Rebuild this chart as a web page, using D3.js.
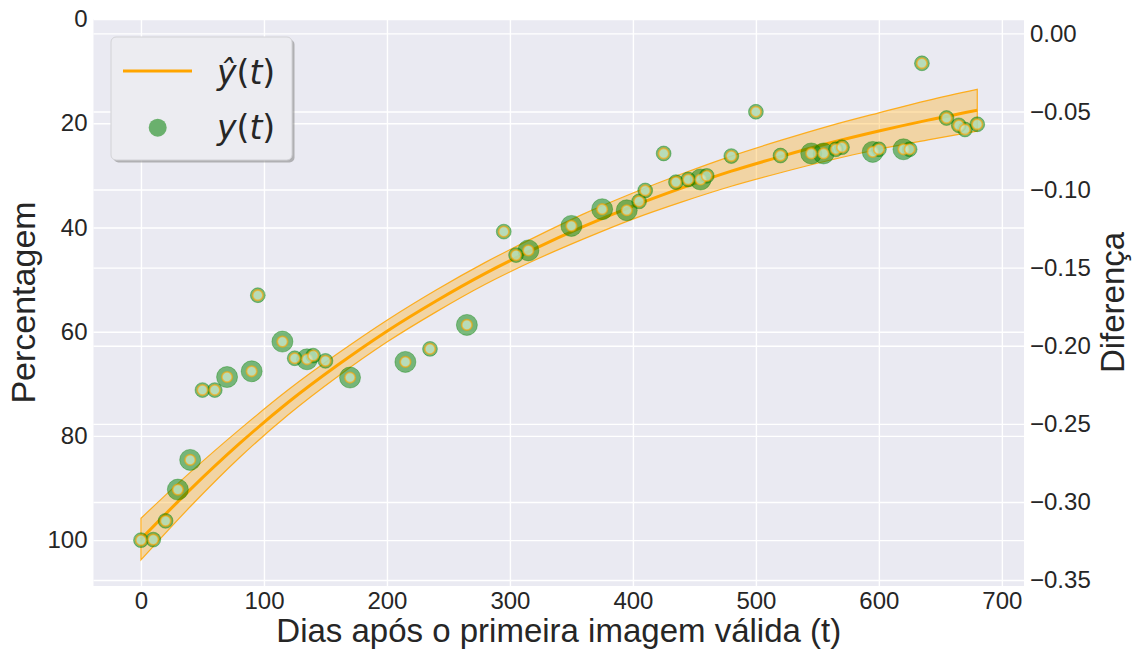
<!DOCTYPE html>
<html>
<head>
<meta charset="utf-8">
<script src="https://cdn.jsdelivr.net/npm/d3@7"></script>
<style>
	body { margin: 0; background: #fff; }
	text { font-family: "Liberation Sans", Arial, sans-serif; fill: #262626; }
</style>
</head>
<body>
<svg id="chart" width="1137" height="650"></svg>
<script>
// observed points y(t)
var days    = [0, 10, 20, 30, 40, 50, 60, 70, 90, 95, 115, 125, 135, 140, 150, 170, 215, 235, 265, 295, 305, 315, 350, 375, 395, 405, 410, 425, 435, 445, 455, 460, 480, 500, 520, 545, 555, 565, 570, 595, 600, 620, 625, 635, 655, 665, 670, 680];
var percent = [100, 99.9, 96.3, 90.3, 84.6, 71.2, 71.2, 68.7, 67.6, 53.0, 61.9, 65.1, 65.3, 64.6, 65.6, 68.8, 65.8, 63.3, 58.7, 40.8, 45.3, 44.4, 39.7, 36.5, 36.7, 35.0, 32.9, 25.8, 31.3, 30.8, 30.8, 30.1, 26.3, 17.8, 26.2, 25.8, 25.8, 25.0, 24.6, 25.5, 25.0, 25.0, 25.0, 8.5, 19.0, 20.4, 21.2, 20.2];
var weight  = [1, 1, 1, 2, 2, 1, 1, 2, 2, 1, 2, 1, 2, 1, 1, 2, 2, 1, 2, 1, 1, 2, 2, 2, 2, 1, 1, 1, 1, 1, 2, 1, 1, 1, 1, 2, 2, 1, 1, 2, 1, 2, 1, 1, 1, 1, 1, 1];

// fitted curve yhat(t) and its band
var fitDays  = [0, 40, 80, 120, 160, 200, 240, 280, 320, 360, 400, 440, 480, 520, 560, 600, 640, 680];
var fitValue = [99.8, 90.3, 81.5, 73.5, 66.4, 59.9, 54.1, 48.8, 44.1, 39.8, 35.9, 32.4, 29.2, 26.4, 23.8, 21.5, 19.4, 17.5];
var fitUpper = [95.8, 87.0, 78.8, 71.1, 64.2, 57.8, 52.0, 46.7, 41.9, 37.4, 33.4, 29.7, 26.3, 23.3, 20.5, 18.0, 15.6, 13.5];
var fitLower = [103.8, 93.6, 84.2, 75.9, 68.6, 62.0, 56.2, 50.9, 46.3, 42.2, 38.4, 35.1, 32.1, 29.5, 27.1, 25.0, 23.2, 21.5];

var xTicks = [0, 100, 200, 300, 400, 500, 600, 700];
var leftTicks = [0, 20, 40, 60, 80, 100];
var rightTicks = [0, -0.05, -0.10, -0.15, -0.20, -0.25, -0.30, -0.35];

(function () {
	var svg = d3.select('#chart');
	var box = {left: 93.5, right: 1024, top: 19, bottom: 586};
	var w = box.right - box.left, h = box.bottom - box.top;

	var x = d3.scaleLinear().domain([-38.6, 718]).range([box.left, box.right]);
	var yL = d3.scaleLinear().domain([0, 108.8]).range([box.top, box.bottom]);
	var yR = d3.scaleLinear().domain([0.0092, -0.3538]).range([box.top, box.bottom]);
	var r = d3.scaleSqrt().domain([0, 2]).range([0, 10.5]);

	svg.append('rect')
		.attr('x', box.left).attr('y', box.top)
		.attr('width', w).attr('height', h)
		.attr('fill', '#eaeaf2');

	function styleAxis(g) {
		g.select('.domain').remove();
		g.selectAll('.tick line').attr('stroke', '#fff').attr('stroke-width', 1.4);
		g.selectAll('.tick text')
			.attr('font-size', 24)
			.attr('font-family', '"Liberation Sans", Arial, sans-serif')
			.attr('fill', '#262626');
	}

	svg.append('g')
		.attr('transform', 'translate(0,' + box.bottom + ')')
		.call(d3.axisBottom(x).tickValues(xTicks).tickSize(-h).tickPadding(6))
		.call(styleAxis);

	svg.append('g')
		.attr('transform', 'translate(' + box.left + ',0)')
		.call(d3.axisLeft(yL).tickValues(leftTicks).tickSize(-w).tickPadding(6))
		.call(styleAxis);

	svg.append('g')
		.attr('transform', 'translate(' + box.right + ',0)')
		.call(d3.axisRight(yR).tickValues(rightTicks).tickSize(-w).tickPadding(6).tickFormat(d3.format('.2f')))
		.call(styleAxis);

	var fit = fitDays.map(function(d, i) {
		return {t: d, v: fitValue[i], up: fitUpper[i], lo: fitLower[i]};
	});

	var area = d3.area()
		.x(d => x(d.t))
		.y0(d => yL(d.lo))
		.y1(d => yL(d.up))
		.curve(d3.curveMonotoneX);

	svg.append('path')
		.datum(fit)
		.attr('d', area)
		.attr('fill', 'orange')
		.attr('fill-opacity', 0.32)
		.attr('stroke', 'orange')
		.attr('stroke-opacity', 0.85)
		.attr('stroke-width', 1.2);

	svg.append('path')
		.datum(fit)
		.attr('d', d3.line().x(d => x(d.t)).y(d => yL(d.v)).curve(d3.curveMonotoneX))
		.attr('fill', 'none')
		.attr('stroke', 'orange')
		.attr('stroke-width', 3);

	var pts = days.map(function(d, i) {
		return {t: d, v: percent[i], n: weight[i]};
	});

	svg.append('g').selectAll('circle')
		.data(pts)
		.enter()
		.append('circle')
		.attr('cx', d => x(d.t))
		.attr('cy', d => yL(d.v))
		.attr('r', d => r(d.n))
		.attr('fill', '#008000')
		.attr('fill-opacity', 0.5)
		.attr('stroke', '#008000')
		.attr('stroke-opacity', 0.35)
		.attr('stroke-width', 1);

	svg.append('g').selectAll('circle')
		.data(pts)
		.enter()
		.append('circle')
		.attr('cx', d => x(d.t))
		.attr('cy', d => yL(d.v))
		.attr('r', 5.2)
		.attr('fill', '#cdeacf')
		.attr('fill-opacity', 0.75)
		.attr('stroke', 'orange')
		.attr('stroke-opacity', 0.6)
		.attr('stroke-width', 1.8);

	// axis labels
	svg.append('text')
		.attr('x', (box.left + box.right) / 2)
		.attr('y', 642)
		.attr('text-anchor', 'middle')
		.attr('font-size', 33)
		.text('Dias após o primeira imagem válida (t)');

	svg.append('text')
		.attr('transform', 'translate(35,' + ((box.top + box.bottom) / 2) + ') rotate(-90)')
		.attr('text-anchor', 'middle')
		.attr('font-size', 34)
		.text('Percentagem');

	svg.append('text')
		.attr('transform', 'translate(1124,' + ((box.top + box.bottom) / 2) + ') rotate(-90)')
		.attr('text-anchor', 'middle')
		.attr('font-size', 33)
		.text('Diferença');

	// legend
	var legend = svg.append('g');
	legend.append('rect')
		.attr('x', 113.5).attr('y', 39.5)
		.attr('width', 181).attr('height', 123)
		.attr('rx', 5)
		.attr('fill', '#808080')
		.attr('fill-opacity', 0.55);
	legend.append('rect')
		.attr('x', 111).attr('y', 37)
		.attr('width', 181).attr('height', 123)
		.attr('rx', 5)
		.attr('fill', '#ececf1')
		.attr('stroke', '#d2d2d6')
		.attr('stroke-width', 1);
	legend.append('line')
		.attr('x1', 123).attr('x2', 192)
		.attr('y1', 71).attr('y2', 71)
		.attr('stroke', 'orange')
		.attr('stroke-width', 3);
	legend.append('circle')
		.attr('cx', 157.7).attr('cy', 127.7)
		.attr('r', 9)
		.attr('fill', '#008000')
		.attr('fill-opacity', 0.55);

	var labels = [['\u0177', 84], ['y', 139]];
	labels.forEach(function(l) {
		var t = legend.append('text')
			.attr('x', 217).attr('y', l[1])
			.attr('font-size', 33)
			.style('font-family', '"DejaVu Sans", sans-serif');
		t.append('tspan').attr('font-style', 'italic').text(l[0]);
		t.append('tspan').text('(');
		t.append('tspan').attr('font-style', 'italic').text('t');
		t.append('tspan').text(')');
	});
}());
</script>
</body>
</html>
